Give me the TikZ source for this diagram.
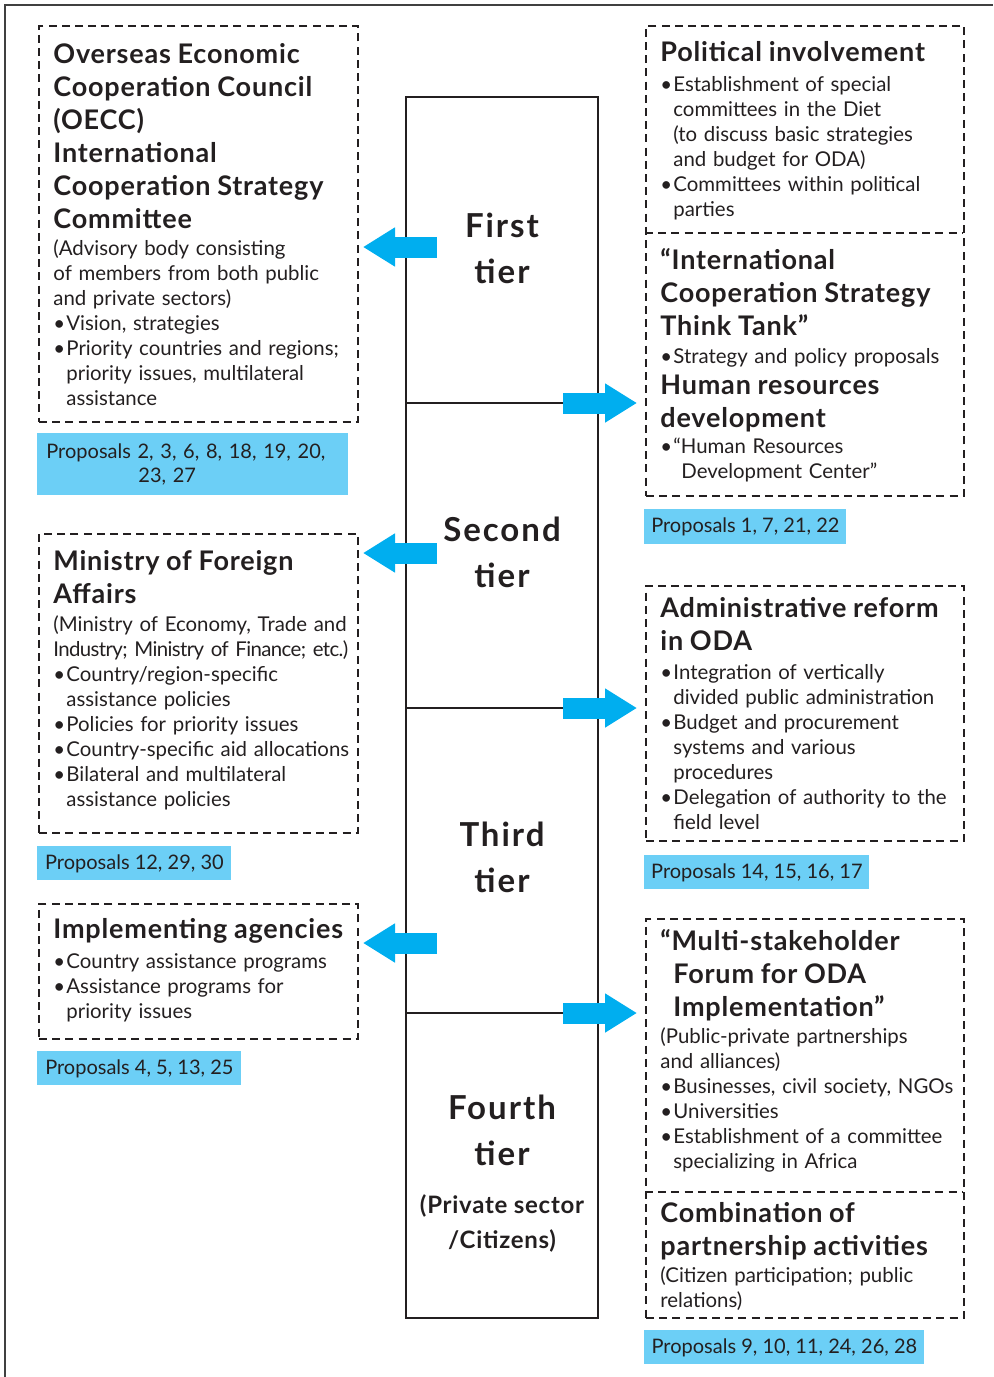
\documentclass[tikz,border=0pt]{standalone}
\usepackage{fontspec}
\setmainfont{Lato}
\newfontfamily\hdfont[LetterSpace=3]{Lato}
\newfontfamily\tierfont[LetterSpace=6]{Lato}
\newfontfamily\tightfont[LetterSpace=-3]{Lato}
\usetikzlibrary{arrows.meta}
\definecolor{ink}{HTML}{231F20}
\definecolor{arrowblue}{HTML}{00AEEF}
\definecolor{propblue}{HTML}{6CCFF6}
\newcommand{\hd}[1]{{\hdfont\fontsize{13.5}{16.5}\selectfont\bfseries #1\par}}
\newcommand{\bd}[1]{{\fontsize{10.2}{12.5}\selectfont #1\par}}
\newcommand{\bul}{\textbullet\hspace{0.6pt}}
\newcommand{\ind}{\hspace*{6.5pt}}
\begin{document}
\begin{tikzpicture}[x=0.5pt,y=-0.5pt]
\tikzstyle{every node}=[inner sep=0pt,text=ink]
\tikzstyle{dbox}=[draw=ink,line width=1pt,dash pattern=on 4pt off 2.6pt,anchor=north west]
\tikzstyle{dline}=[draw=ink,line width=1pt,dash pattern=on 4pt off 2.6pt]
\tikzstyle{txt}=[anchor=base west,text width=162pt,align=left]
\tikzstyle{prop}=[fill=propblue,anchor=north west,align=left,font=\fontsize{10}{12}\selectfont]
\tikzstyle{tier}=[align=center,font=\tierfont\fontsize{16.5}{23}\selectfont\bfseries]
\tikzstyle{push}=[arrowblue,line width=10.5pt,-{Triangle[length=16pt,width=18.5pt]}]
\useasboundingbox (0,0) rectangle (993,1377);
\draw[line width=1pt,black!75] (5,1377) -- (5,5) -- (993,5);

\node[draw=ink,line width=1.25pt,minimum width=96pt,minimum height=610.5pt] (col) at (502,707.5) {};
\foreach \y in {403,708,1013}
  \draw[ink,line width=1.25pt] (406,\y) -- (598,\y);
\node[tier] (first) at (502,248) {First\\tier};
\node[tier] (second) at (502,552) {Second\\tier};
\node[tier] (third) at (502,857) {Third\\tier};
\node[tier] (fourth) at (502,1130) {Fourth\\tier};
\node[align=center,font=\hdfont\fontsize{12}{17.5}\selectfont\bfseries] (citizens) at (502,1223) {(Private sector\\/Citizens)};

\node[dbox,minimum width=159.5pt,minimum height=198pt] (oecc) at (38,25) {};
\node[txt] (oecc text) at (53,63) {\hd{Overseas Economic\\Cooperation Council\\(OECC)\\International\\Cooperation Strategy\\Committee}\vskip1pt
  \bd{(Advisory body consisting\\of members from both public\\and private sectors)\\\bul Vision, strategies\\\bul Priority countries and regions;\\\ind priority issues, multilateral\\\ind assistance}};
\node[prop,minimum width=155.5pt,minimum height=31pt,inner xsep=4.5pt,text width=146.5pt] (prop oecc) at (37,433) {Proposals 2, 3, 6, 8, 18, 19, 20,\\\hspace*{46pt}23, 27};

\node[dbox,minimum width=159.5pt,minimum height=149.5pt] (mofa) at (38,533) {};
\node[txt] (mofa text) at (53,570) {\hd{Ministry of Foreign\\Affairs}\vskip1.5pt
  \bd{(Ministry of Economy, Trade and\\{\tightfont Industry; Ministry of Finance; etc.)}\\\bul Country/region-specific\\\ind assistance policies\\\bul Policies for priority issues\\\bul Country-specific aid allocations\\\bul Bilateral and multilateral\\\ind assistance policies}};
\node[prop,minimum width=97pt,minimum height=17pt] (prop mofa) at (37,846) {Proposals 12, 29, 30};

\node[dbox,minimum width=159.5pt,minimum height=67.5pt] (agencies) at (38,903) {};
\node[txt] (agencies text) at (53,938) {\hd{Implementing agencies}\vskip2.5pt
  \bd{\bul Country assistance programs\\\bul Assistance programs for\\\ind priority issues}};
\node[prop,minimum width=102pt,minimum height=17pt] (prop agencies) at (37,1051) {Proposals 4, 5, 13, 25};

\node[dbox,minimum width=159pt,minimum height=235pt] (politics) at (645,25) {};
\draw[dline] (645,233) -- (963,233);
\node[txt] (politics text) at (660,61) {\hd{Political involvement}\vskip2.5pt
  \bd{\bul Establishment of special\\\ind committees in the Diet\\\ind (to discuss basic strategies\\\ind and budget for ODA)\\\bul Committees within political\\\ind parties}};
\node[txt] (thinktank text) at (660,269) {\hd{“International\\Cooperation Strategy\\Think Tank”}\vskip1.5pt
  \bd{\bul Strategy and policy proposals}\vskip-1pt
  \hd{Human resources\\development}\vskip0.5pt
  \bd{\bul “Human Resources\\\ind\hspace*{4pt}Development Center”}};
\node[prop,minimum width=101pt,minimum height=17.5pt] (prop politics) at (644,509) {Proposals 1, 7, 21, 22};

\node[dbox,minimum width=159pt,minimum height=127.5pt] (reform) at (645,585) {};
\node[txt] (reform text) at (660,617) {\hd{Administrative reform\\in ODA}\vskip2pt
  \bd{\bul Integration of vertically\\\ind divided public administration\\\bul Budget and procurement\\\ind systems and various\\\ind procedures\\\bul Delegation of authority to the\\\ind field level}};
\node[prop,minimum width=112.5pt,minimum height=17pt] (prop reform) at (644,855) {Proposals 14, 15, 16, 17};

\node[dbox,minimum width=159pt,minimum height=199.5pt] (forum) at (645,918) {};
\draw[dline] (645,1192) -- (963,1192);
\node[txt] (forum text) at (660,950) {\hd{“Multi-stakeholder\\\ind Forum for ODA\\\ind Implementation”}\vskip1pt
  \bd{(Public-private partnerships\\and alliances)\\\bul Businesses, civil society, NGOs\\\bul Universities\\\bul Establishment of a committee\\\ind specializing in Africa}};
\node[txt] (partnership text) at (660,1222) {\hd{Combination of\\partnership activities}\vskip1pt
  \bd{(Citizen participation; public\\relations)}};
\node[prop,minimum width=140pt,minimum height=17pt] (prop forum) at (644,1330) {Proposals 9, 10, 11, 24, 26, 28};

\foreach \y in {247,553,943}
  \draw[push] (437,\y) -- (363,\y);
\foreach \y in {403,708,1013}
  \draw[push] (563,\y) -- (637,\y);
\end{tikzpicture}
\end{document}
